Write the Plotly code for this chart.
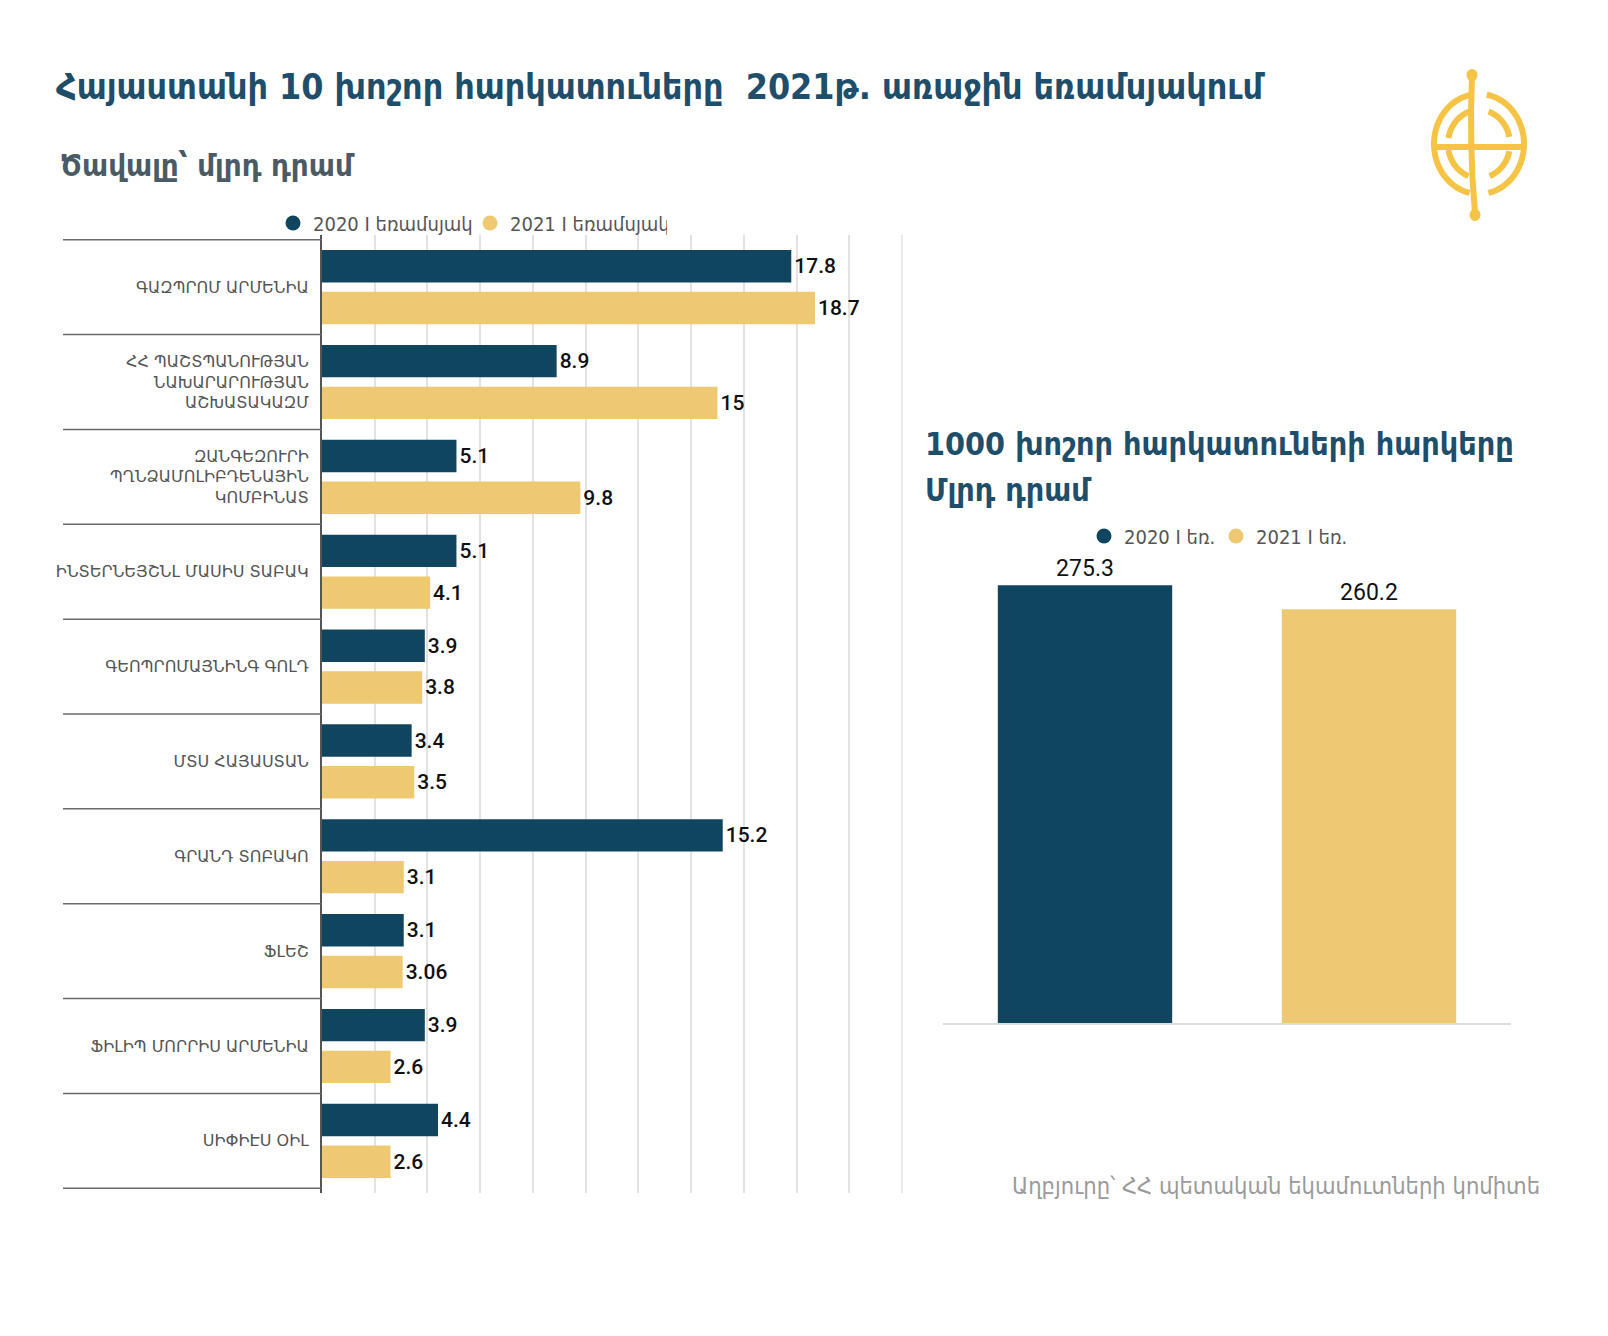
import numpy as np
import plotly.graph_objects as go

W, H = 1608, 1336

# ---------------- data ----------------
companies = [
    "ԳԱԶՊՐՈՄ ԱՐՄԵՆԻԱ",
    "ՀՀ ՊԱՇՏՊԱՆՈՒԹՅԱՆ<br>ՆԱԽԱՐԱՐՈՒԹՅԱՆ<br>ԱՇԽԱՏԱԿԱԶՄ",
    "ԶԱՆԳԵԶՈՒՐԻ<br>ՊՂՆՁԱՄՈԼԻԲԴԵՆԱՅԻՆ<br>ԿՈՄԲԻՆԱՏ",
    "ԻՆՏԵՐՆԵՅՇՆԼ ՄԱՍԻՍ ՏԱԲԱԿ",
    "ԳԵՈՊՐՈՄԱՅՆԻՆԳ ԳՈԼԴ",
    "ՄՏՍ ՀԱՅԱՍՏԱՆ",
    "ԳՐԱՆԴ ՏՈԲԱԿՈ",
    "ՖԼԵՇ",
    "ՖԻԼԻՊ ՄՈՐՐԻՍ ԱՐՄԵՆԻԱ",
    "ՍԻՓԻԷՍ ՕԻԼ",
]
q1_2020 = [17.8, 8.9, 5.1, 5.1, 3.9, 3.4, 15.2, 3.1, 3.9, 4.4]
q1_2021 = [18.7, 15, 9.8, 4.1, 3.8, 3.5, 3.1, 3.06, 2.6, 2.6]
series_names = ["2020 I եռամսյակ", "2021 I եռամսյակ"]

total_labels = ["2020 I եռ.", "2021 I եռ."]
total_values = [275.3, 260.2]

title_text = "Հայաստանի 10 խոշոր հարկատուները  2021թ. առաջին եռամսյակում"
subtitle_text = "Ծավալը՝ մլրդ դրամ"
right_title_1 = "1000 խոշոր հարկատուների հարկերը"
right_title_2 = "Մլրդ դրամ"
source_text = "Աղբյուրը՝ ՀՀ պետական եկամուտների կոմիտե"

# ---------------- style ----------------
DARK = "#10455f"
GOLD = "#eec972"
TITLE_C = "#1f4e6b"
LOGO_C = "#f5c445"
ARM_FONT = "DejaVu Sans Condensed"
LABEL_FONT = "DejaVu Sans"
NUM_FONT = "Roboto"

# left plot geometry (px)
L_X0, L_X1 = 314, 894
L_Y0, L_Y1 = 227, 1185
# right plot geometry (px)
R_X0, R_X1 = 935, 1503
R_Y0, R_Y1 = 538, 1015


def px(x):
    return x / W


def py(y):
    return 1 - y / H


fig = go.Figure()

# left chart bars
for vals, name, col in [(q1_2020, series_names[0], DARK), (q1_2021, series_names[1], GOLD)]:
    fig.add_trace(go.Bar(
        y=companies, x=vals, orientation="h", name=name,
        marker=dict(color=col, line=dict(width=0)),
        text=[f"{v:g}" for v in vals], textposition="outside",
        outsidetextfont=dict(family=NUM_FONT, size=21, color="#111", weight=500),
        cliponaxis=False, showlegend=False, xaxis="x", yaxis="y",
    ))
    fig.add_trace(go.Scatter(
        x=[None], y=[None], mode="markers", name=name,
        marker=dict(color=col, size=15, symbol="circle"),
        legend="legend", xaxis="x", yaxis="y",
    ))

# right chart bars
fig.add_trace(go.Bar(
    x=total_labels, y=total_values, marker=dict(color=[DARK, GOLD], line=dict(width=0)),
    width=0.614, text=[f"{v:g}" for v in total_values], textposition="outside",
    outsidetextfont=dict(family=NUM_FONT, size=23, color="#111"),
    cliponaxis=False, showlegend=False, xaxis="x2", yaxis="y2",
))
for name, col in zip(total_labels, [DARK, GOLD]):
    fig.add_trace(go.Scatter(
        x=[None], y=[None], mode="markers", name=name,
        marker=dict(color=col, size=15, symbol="circle"),
        legend="legend2", xaxis="x2", yaxis="y2",
    ))

n = len(companies)
shapes = []
# row separators in label column
for i in range(n + 1):
    shapes.append(dict(type="line", xref="paper", yref="y", x0=px(55), x1=px(L_X0),
                       y0=i - 0.5, y1=i - 0.5, line=dict(color="#6a6a6a", width=1.5)))
# right edge line of the left plot
shapes.append(dict(type="line", xref="paper", yref="paper", x0=px(L_X1), x1=px(L_X1),
                   y0=py(L_Y0), y1=py(L_Y1), line=dict(color="#e2e2e2", width=1.5)))


# logo (decorative)
def arc(cx, cy, rx, ry, a0, a1, k=40):
    t = np.radians(np.linspace(a0, a1, k))
    xs = cx + rx * np.cos(t)
    ys = cy - ry * np.sin(t)
    return "M " + " L ".join(f"{px(a):.5f},{py(b):.5f}" for a, b in zip(xs, ys))


LCX, LCY = 1471, 136
logo_line = dict(color=LOGO_C, width=6)
for a0, a1 in [(100, 258), (-78, 80)]:
    shapes.append(dict(type="path", xref="paper", yref="paper", path=arc(LCX, LCY, 45, 50, a0, a1), line=logo_line))
for a0, a1 in [(108, 170), (190, 250), (12, 72), (-70, -12)]:
    shapes.append(dict(type="path", xref="paper", yref="paper", path=arc(LCX, LCY, 31, 34, a0, a1), line=logo_line))
shapes.append(dict(type="line", xref="paper", yref="paper", x0=px(LCX - 45), x1=px(LCX + 47),
                   y0=py(LCY + 3), y1=py(LCY + 3), line=logo_line))
shapes.append(dict(type="path", xref="paper", yref="paper",
                   path=f"M {px(LCX - 7):.5f},{py(67):.5f} Q {px(LCX - 10):.5f},{py(136):.5f} {px(LCX - 4):.5f},{py(205):.5f}",
                   line=logo_line))
for cx_, cy_ in ((LCX - 7, 67), (LCX - 4, 207)):
    shapes.append(dict(type="circle", xref="paper", yref="paper", x0=px(cx_ - 5.5), x1=px(cx_ + 5.5),
                       y0=py(cy_ - 6), y1=py(cy_ + 6), fillcolor=LOGO_C, line=dict(width=0)))

annotations = [
    dict(text=title_text, x=px(46), y=py(78), xref="paper", yref="paper", xanchor="left", yanchor="middle",
         showarrow=False, font=dict(family=ARM_FONT, size=35.5, color=TITLE_C, weight="bold")),
    dict(text=subtitle_text, x=px(50), y=py(157), xref="paper", yref="paper", xanchor="left", yanchor="middle",
         showarrow=False, font=dict(family=ARM_FONT, size=31, color="#4b5b66", weight="bold")),
    dict(text=right_title_1, x=px(915), y=py(436), xref="paper", yref="paper", xanchor="left", yanchor="middle",
         showarrow=False, font=dict(family=ARM_FONT, size=32, color=TITLE_C, weight="bold")),
    dict(text=right_title_2, x=px(915), y=py(482), xref="paper", yref="paper", xanchor="left", yanchor="middle",
         showarrow=False, font=dict(family=ARM_FONT, size=32, color=TITLE_C, weight="bold")),
    dict(text=source_text, x=px(1534), y=py(1178), xref="paper", yref="paper", xanchor="right", yanchor="middle",
         showarrow=False, font=dict(family=ARM_FONT, size=23.5, color="#9a9a9a")),
]

fig.update_layout(
    width=W, height=H, autosize=False,
    margin=dict(l=0, r=0, t=0, b=0),
    paper_bgcolor="white", plot_bgcolor="white",
    barmode="group", bargap=0.12, bargroupgap=0.224,
    font=dict(family=ARM_FONT, color="#555"),
    xaxis=dict(domain=[px(L_X0), px(L_X1)], range=[0, 22], dtick=2, showgrid=True,
               gridcolor="#e2e2e2", gridwidth=1.5, showticklabels=False, zeroline=False,
               showline=False, anchor="y", fixedrange=True),
    yaxis=dict(domain=[py(L_Y1), py(L_Y0)], range=[n - 0.45, -0.55], showgrid=False,
               showline=True, linecolor="#555", linewidth=2, ticks="",
               tickfont=dict(family=LABEL_FONT, size=16, color="#555"), ticklabelstandoff=8,
               anchor="x", fixedrange=True),
    xaxis2=dict(domain=[px(R_X0), px(R_X1)], anchor="y2", showticklabels=False, showline=True,
                linecolor="#dcdcdc", linewidth=1.5, showgrid=False, zeroline=False, ticks=""),
    yaxis2=dict(domain=[py(R_Y1), py(R_Y0)], anchor="x2", range=[0, 300], showgrid=False,
                showticklabels=False, zeroline=False, showline=False),
    legend=dict(orientation="h", x=px(265), y=py(215), xanchor="left", yanchor="middle",
                font=dict(family=ARM_FONT, size=20, color="#555"), itemwidth=30,
                entrywidth=152, entrywidthmode="pixels", bgcolor="rgba(0,0,0,0)"),
    legend2=dict(orientation="h", x=px(1076), y=py(528), xanchor="left", yanchor="middle",
                 font=dict(family=ARM_FONT, size=20, color="#555"), itemwidth=30,
                 entrywidth=87, entrywidthmode="pixels", bgcolor="rgba(0,0,0,0)"),
    shapes=shapes,
    annotations=annotations,
)

fig.write_html("out.html")
